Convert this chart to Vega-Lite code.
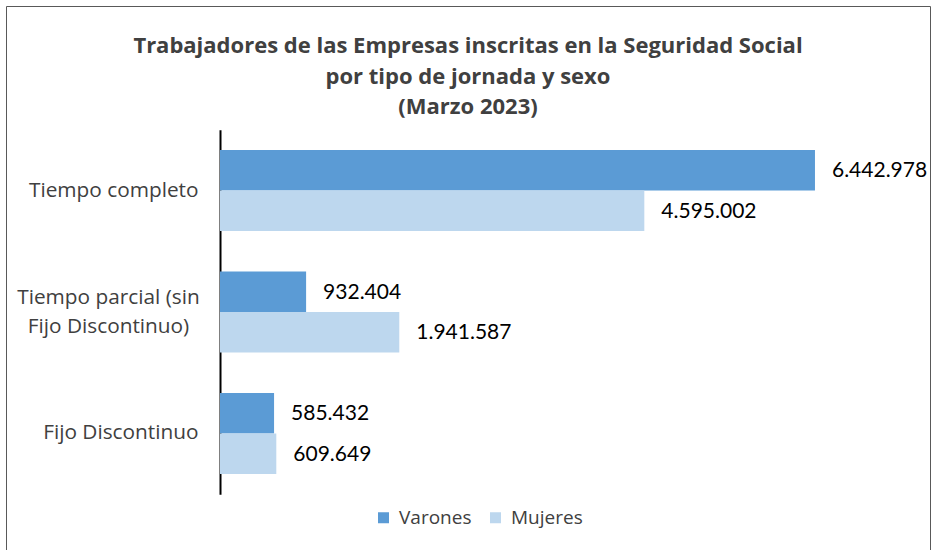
{
  "$schema": "https://vega.github.io/schema/vega-lite/v6.json",
  "width": 924,
  "height": 545,
  "padding": {"left": 6, "top": 6, "right": 8, "bottom": 0},
  "background": "white",
  "title": {
    "text": ["Trabajadores de las Empresas inscritas en la Seguridad Social", "por tipo de jornada y sexo", "(Marzo 2023)"],
    "font": "Open Sans",
    "fontSize": 22,
    "fontWeight": "bold",
    "color": "#404040",
    "lineHeight": 30.5,
    "anchor": "middle",
    "offset": -113
  },
  "config": {
    "view": {"stroke": "#595959", "strokeWidth": 1},
    "locale": {"number": {"decimal": ",", "thousands": ".", "grouping": [3], "currency": ["", " €"]}}
  },
  "data": {
    "values": [
      {"tipo": "Tiempo completo", "sexo": "Varones", "valor": 6442978},
      {"tipo": "Tiempo completo", "sexo": "Mujeres", "valor": 4595002},
      {"tipo": "Tiempo parcial (sin Fijo Discontinuo)", "sexo": "Varones", "valor": 932404},
      {"tipo": "Tiempo parcial (sin Fijo Discontinuo)", "sexo": "Mujeres", "valor": 1941587},
      {"tipo": "Fijo Discontinuo", "sexo": "Varones", "valor": 585432},
      {"tipo": "Fijo Discontinuo", "sexo": "Mujeres", "valor": 609649}
    ]
  },
  "encoding": {
    "y": {
      "field": "tipo",
      "type": "nominal",
      "sort": ["Tiempo completo", "Tiempo parcial (sin Fijo Discontinuo)", "Fijo Discontinuo"],
      "scale": {"range": [123.75, 488.25], "paddingInner": 0.3333, "paddingOuter": 0.1667},
      "axis": {
        "title": null,
        "offset": -214,
        "domainColor": "#000000",
        "domainWidth": 2,
        "ticks": false,
        "tickSize": 0,
        "labelFont": "Open Sans",
        "labelFontSize": 20.8,
        "labelColor": "#404040",
        "labelLineHeight": 29,
        "labelBaseline": "middle",
        "labelLimit": 400,
        "labelAlign": {"condition": {"test": "datum.value == 'Tiempo parcial (sin Fijo Discontinuo)'", "value": "center"}, "value": "right"},
        "labelPadding": {"condition": {"test": "datum.value == 'Tiempo parcial (sin Fijo Discontinuo)'", "value": 112}, "value": 22},
        "labelOffset": {"condition": {"test": "datum.value == 'Tiempo parcial (sin Fijo Discontinuo)'", "value": -14.5}, "value": 0},
        "labelExpr": "datum.value == 'Tiempo parcial (sin Fijo Discontinuo)' ? ['Tiempo parcial (sin', 'Fijo Discontinuo)'] : datum.value"
      }
    },
    "yOffset": {
      "field": "sexo",
      "type": "nominal",
      "sort": ["Varones", "Mujeres"],
      "scale": {"paddingInner": 0, "paddingOuter": 0}
    },
    "x": {
      "field": "valor",
      "type": "quantitative",
      "scale": {"domain": [-2317400, 7688600], "zero": false, "nice": false},
      "axis": null
    }
  },
  "layer": [
    {
      "mark": {"type": "bar"},
      "encoding": {
        "x2": {"datum": 0},
        "color": {
          "field": "sexo",
          "type": "nominal",
          "sort": ["Varones", "Mujeres"],
          "scale": {"domain": ["Varones", "Mujeres"], "range": ["#5B9BD5", "#BDD7EE"]},
          "legend": {
            "title": null,
            "orient": "none",
            "direction": "horizontal",
            "legendX": 368,
            "legendY": 502,
            "padding": 0,
            "symbolType": "square",
            "symbolSize": 121,
            "symbolStrokeWidth": 0,
            "labelFont": "Open Sans",
            "labelFontSize": 19,
            "labelColor": "#404040",
            "labelOffset": 6,
            "columnPadding": 14
          }
        }
      }
    },
    {
      "mark": {"type": "text", "align": "left", "baseline": "middle", "dx": 17, "dy": 1, "font": "Lato", "fontSize": 21, "color": "#000000"},
      "encoding": {
        "text": {"field": "valor", "type": "quantitative", "format": ",d"}
      }
    }
  ]
}
